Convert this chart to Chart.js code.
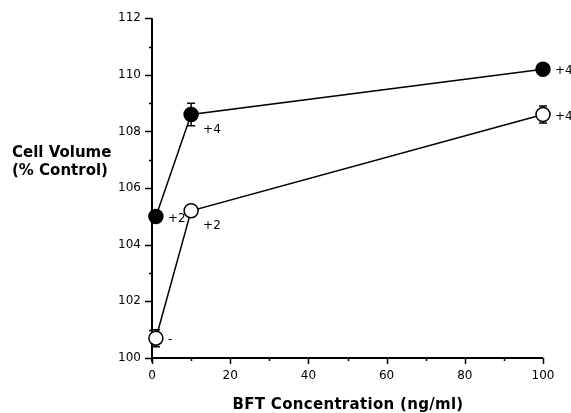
<!DOCTYPE html>
<html>
<head>
<meta charset="utf-8">
<script src="https://cdn.jsdelivr.net/npm/chart.js@4.4.1/dist/chart.umd.min.js"></script>
<style>
  html, body { margin: 0; padding: 0; background: #fff; }
  #wrap { width: 571px; height: 413px; position: relative; }
</style>
</head>
<body>
<div id="wrap"><canvas id="chart"></canvas></div>
<script>
"use strict";

// BFT concentration (ng/ml)
const concentrations = [1, 10, 100];
// cell volume, % control
const filledValues = [105.0, 108.6, 110.2];
const openValues = [100.7, 105.2, 108.6];
// error bar half-widths
const filledErr = [0.15, 0.4, 0.1];
const openErr = [0.3, 0.2, 0.3];
// annotations beside points
const filledNotes = ["+2", "+4", "+4"];
const openNotes = ["-", "+2", "+4"];

const xTitle = "BFT Concentration (ng/ml)";
const yTitle = ["Cell Volume", "(% Control)"];

const INK = "#000";
const LABEL_FONT = "12px 'DejaVu Sans', sans-serif";
const TITLE_FONT = "bold 15px 'DejaVu Sans', sans-serif";

const toPoints = (ys) => concentrations.map((x, i) => ({ x, y: ys[i] }));

// axes lines, major/minor ticks, error bars, notes, titles
const figurePlugin = {
  id: "figure",
  beforeDatasetsDraw(chart) {
    const { ctx, scales: { x, y } } = chart;
    const x0 = x.getPixelForValue(0);
    const y0 = y.getPixelForValue(100);
    ctx.save();
    ctx.strokeStyle = INK;

    // y axis
    ctx.lineWidth = 2;
    ctx.beginPath();
    ctx.moveTo(x0, y.getPixelForValue(112));
    ctx.lineTo(x0, y0 + 4);
    ctx.stroke();
    for (let v = 100; v <= 112; v += 1) {
      const py = Math.round(y.getPixelForValue(v)) + 0.5;
      const len = v % 2 === 0 ? 7 : 3;
      ctx.lineWidth = 1.5;
      ctx.beginPath();
      ctx.moveTo(x0, py);
      ctx.lineTo(x0 - len, py);
      ctx.stroke();
    }

    // x axis
    ctx.lineWidth = 2;
    ctx.beginPath();
    ctx.moveTo(x0, y0);
    ctx.lineTo(x.getPixelForValue(100), y0);
    ctx.stroke();
    for (let v = 0; v <= 100; v += 10) {
      const px = Math.round(x.getPixelForValue(v)) + 0.5;
      const len = v % 20 === 0 ? 6 : 3;
      ctx.lineWidth = 1.5;
      ctx.beginPath();
      ctx.moveTo(px, y0);
      ctx.lineTo(px, y0 + len);
      ctx.stroke();
    }

    // error bars
    const drawErr = (vals, errs) => {
      vals.forEach((v, i) => {
        if (!errs[i]) return;
        const px = x.getPixelForValue(concentrations[i]);
        const top = y.getPixelForValue(v + errs[i]);
        const bot = y.getPixelForValue(v - errs[i]);
        ctx.lineWidth = 1.5;
        ctx.beginPath();
        ctx.moveTo(px, top);
        ctx.lineTo(px, bot);
        ctx.moveTo(px - 4, top);
        ctx.lineTo(px + 4, top);
        ctx.moveTo(px - 4, bot);
        ctx.lineTo(px + 4, bot);
        ctx.stroke();
      });
    };
    drawErr(filledValues, filledErr);
    drawErr(openValues, openErr);
    ctx.restore();
  },
  afterDraw(chart) {
    const { ctx, scales: { x, y } } = chart;
    ctx.save();
    ctx.fillStyle = INK;

    // notes: right of end points, below-right for mid points
    ctx.font = LABEL_FONT;
    ctx.textBaseline = "middle";
    ctx.textAlign = "left";
    const note = (vals, notes) => {
      vals.forEach((v, i) => {
        const px = x.getPixelForValue(concentrations[i]);
        const py = y.getPixelForValue(v);
        if (i === 1) ctx.fillText(notes[i], px + 12, py + 15);
        else ctx.fillText(notes[i], px + 12, py + 2);
      });
    };
    note(filledValues, filledNotes);
    note(openValues, openNotes);

    // titles
    ctx.font = TITLE_FONT;
    ctx.textBaseline = "alphabetic";
    ctx.letterSpacing = "0.3px";
    ctx.textAlign = "center";
    ctx.fillText(xTitle, 348, 409);
    ctx.letterSpacing = "0px";
    ctx.textAlign = "left";
    ctx.fillText(yTitle[0], 12, 157);
    ctx.fillText(yTitle[1], 12, 175);
    ctx.restore();
  }
};

new Chart(document.getElementById("chart"), {
  type: "scatter",
  data: {
    datasets: [
      {
        data: toPoints(openValues),
        showLine: true,
        clip: false,
        borderColor: INK,
        borderWidth: 1.5,
        pointRadius: 7,
        pointBackgroundColor: "#fff",
        pointBorderColor: INK,
        pointBorderWidth: 1.5,
        order: 2,
      },
      {
        data: toPoints(filledValues),
        showLine: true,
        clip: false,
        borderColor: INK,
        borderWidth: 1.5,
        pointRadius: 7,
        pointBackgroundColor: INK,
        pointBorderColor: INK,
        pointBorderWidth: 1.5,
        order: 1,
      },
    ],
  },
  options: {
    responsive: true,
    maintainAspectRatio: false,
    animation: false,
    layout: { padding: { top: 18, right: 28, left: 0, bottom: 0 } },
    plugins: { legend: { display: false }, tooltip: { enabled: false } },
    scales: {
      x: {
        type: "linear",
        min: 0,
        max: 100,
        ticks: { stepSize: 20, color: INK, font: { family: "'DejaVu Sans', sans-serif", size: 12 }, padding: 11, maxRotation: 0 },
        grid: { display: false, drawTicks: false },
        border: { display: false },
        afterFit: (s) => { s.height = 55; },
      },
      y: {
        type: "linear",
        min: 100,
        max: 112,
        ticks: { stepSize: 2, color: INK, font: { family: "'DejaVu Sans', sans-serif", size: 12 }, padding: 11 },
        grid: { display: false, drawTicks: false },
        border: { display: false },
        afterFit: (s) => { s.width = 152; },
      },
    },
  },
  plugins: [figurePlugin],
});
</script>
</body>
</html>
